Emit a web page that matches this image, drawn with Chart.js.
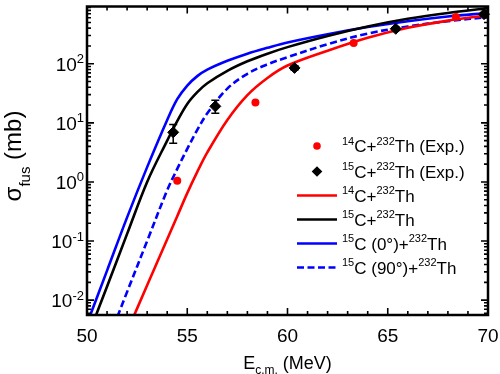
<!DOCTYPE html>
<html>
<head>
<meta charset="utf-8">
<script src="https://cdn.jsdelivr.net/npm/chart.js@4.4.1/dist/chart.umd.min.js"></script>
<style>
  html, body { margin: 0; padding: 0; background: #fff; }
  #c { display: block; }
</style>
</head>
<body>
<canvas id="c" width="500" height="374"></canvas>
<script>
// ---- data ----

// energy grid of the calculated curves (MeV)
const eCalc = [50, 51, 52, 53, 54, 54.5, 55, 55.5, 56, 57, 58, 59, 60, 62, 64, 66, 68, 70];

// calculated fusion cross sections (mb)
const sigC14 = [0.00008, 0.0005, 0.00295, 0.0178, 0.107, 0.263, 0.646, 1.48, 3.16, 11.2, 29.5, 57.5, 93.3, 166, 275, 407, 537, 661];
const sigC15 = [0.00224, 0.017, 0.132, 1.0, 5.01, 10.7, 20.9, 33.1, 46.8, 75.9, 110, 148, 191, 295, 427, 575, 724, 871];
const sigC15deg0 = [0.00398, 0.0316, 0.251, 1.78, 11.2, 25.1, 42.7, 61.7, 79.4, 112, 148, 186, 229, 316, 417, 525, 631, 724];
const sigC15deg90 = [0.00025, 0.00186, 0.0138, 0.1, 0.724, 1.66, 3.63, 7.59, 14.5, 38.0, 67.6, 97.7, 129, 214, 324, 427, 525, 617];

// experimental points
const eExp14 = [54.5, 58.4, 63.3, 68.4];
const sigExp14 = [1.05, 22, 225, 615];
const eExp15 = [54.3, 56.4, 60.35, 65.4, 69.8];
const sigExp15 = [6.9, 19, 85, 390, 690];
const errLo15 = [4.5, 14.5, 78, 365, 650];
const errHi15 = [9.4, 24, 92, 415, 730];

// axis ticks
const xMajor = [50, 55, 60, 65, 70];
const yDecades = [-2, -1, 0, 1, 2];

// legend labels, split into [text, superscript?] pieces
const legendLabels = [
  [["14", true], ["C+", false], ["232", true], ["Th (Exp.)", false]],
  [["15", true], ["C+", false], ["232", true], ["Th (Exp.)", false]],
  [["14", true], ["C+", false], ["232", true], ["Th", false]],
  [["15", true], ["C+", false], ["232", true], ["Th", false]],
  [["15", true], ["C (0\u00B0)+", false], ["232", true], ["Th", false]],
  [["15", true], ["C (90\u00B0)+", false], ["232", true], ["Th", false]]
];

const FONT = "'Liberation Sans', Arial, Helvetica, sans-serif";
const RED = "#ff0000", BLUE = "#0000ff", BLACK = "#000000";

const pts = (xs, ys) => xs.map((x, i) => ({ x: x, y: ys[i] }));

function curve(values, color, dash) {
  return {
    data: pts(eCalc, values),
    showLine: true,
    borderColor: color,
    borderWidth: 2.6,
    borderDash: dash || [],
    pointRadius: 0,
    tension: 0.35,
    order: 2
  };
}

// ---- plugins: frame + ticks, error bars, titles, legend ----

const framePlugin = {
  id: "frame",
  afterDatasetsDraw(chart) {
    const { ctx, chartArea: a, scales: { x, y } } = chart;
    ctx.save();
    ctx.strokeStyle = BLACK;

    // error bars for 15C data
    ctx.lineWidth = 1.5;
    eExp15.forEach((e, i) => {
      const px = x.getPixelForValue(e);
      const lo = y.getPixelForValue(errLo15[i]);
      const hi = y.getPixelForValue(errHi15[i]);
      ctx.beginPath();
      ctx.moveTo(px, lo); ctx.lineTo(px, hi);
      ctx.moveTo(px - 4, lo); ctx.lineTo(px + 4, lo);
      ctx.moveTo(px - 4, hi); ctx.lineTo(px + 4, hi);
      ctx.stroke();
    });

    // tick marks on all four sides, pointing in
    ctx.lineWidth = 1.6;
    ctx.beginPath();
    for (let v = 50; v <= 70; v++) {
      const px = x.getPixelForValue(v);
      const len = v % 5 === 0 ? 7 : 4;
      ctx.moveTo(px, a.bottom); ctx.lineTo(px, a.bottom - len);
      ctx.moveTo(px, a.top); ctx.lineTo(px, a.top + len);
    }
    for (let k = -3; k <= 2; k++) {
      for (let m = 1; m <= 9; m++) {
        const v = m * Math.pow(10, k);
        if (v < y.min || v > y.max) continue;
        const py = y.getPixelForValue(v);
        const len = m === 1 ? 7 : 4;
        ctx.moveTo(a.left, py); ctx.lineTo(a.left + len, py);
        ctx.moveTo(a.right, py); ctx.lineTo(a.right - len, py);
      }
    }
    ctx.stroke();

    // frame
    ctx.lineWidth = 2.5;
    ctx.strokeRect(a.left, a.top, a.right - a.left, a.bottom - a.top);
    ctx.restore();
  },

  afterDraw(chart) {
    const { ctx, chartArea: a, scales: { y } } = chart;
    ctx.save();
    ctx.fillStyle = BLACK;
    ctx.textBaseline = "alphabetic";

    // y tick labels 10^n
    yDecades.forEach(k => {
      const py = y.getPixelForValue(Math.pow(10, k));
      const exp = k < 0 ? "-" + (-k) : String(k);
      ctx.font = "13px " + FONT;
      const we = ctx.measureText(exp).width;
      ctx.font = "19px " + FONT;
      const wb = ctx.measureText("10").width;
      const right = 84;
      ctx.fillText("10", right - we - wb, py + 6.8);
      ctx.font = "13px " + FONT;
      ctx.fillText(exp, right - we, py - 0.5);
    });

    // x title: E_c.m. (MeV)
    const xParts = [["E", "18px", 0], ["c.m.", "12px", 5], [" (MeV)", "18px", 0]];
    let total = 0;
    xParts.forEach(p => { ctx.font = p[1] + " " + FONT; total += ctx.measureText(p[0]).width; });
    let cx = (a.left + a.right) / 2 - total / 2;
    xParts.forEach(p => {
      ctx.font = p[1] + " " + FONT;
      ctx.fillText(p[0], cx, 369 + p[2]);
      cx += ctx.measureText(p[0]).width;
    });

    // y title: sigma_fus (mb), rotated
    const yParts = [["\u03C3", "24px", 0], ["fus", "15px", 9.5], [" (mb)", "24px", 0]];
    total = 0;
    yParts.forEach(p => { ctx.font = p[1] + " " + FONT; total += ctx.measureText(p[0]).width; });
    ctx.translate(20.5, 156);
    ctx.rotate(-Math.PI / 2);
    cx = -total / 2;
    yParts.forEach(p => {
      ctx.font = p[1] + " " + FONT;
      ctx.fillText(p[0], cx, p[2]);
      cx += ctx.measureText(p[0]).width;
    });
    ctx.setTransform(1, 0, 0, 1, 0, 0);

    // legend
    const rowY = [146, 171.5, 195.5, 219.5, 243.5, 267.5];
    const symX = 317;
    rowY.forEach((ry, i) => {
      ctx.save();
      if (i === 0) {
        ctx.fillStyle = RED;
        ctx.beginPath(); ctx.arc(symX, ry, 3.8, 0, Math.PI * 2); ctx.fill();
      } else if (i === 1) {
        ctx.fillStyle = BLACK;
        ctx.beginPath();
        ctx.moveTo(symX - 5.3, ry); ctx.lineTo(symX, ry - 5.3);
        ctx.lineTo(symX + 5.3, ry); ctx.lineTo(symX, ry + 5.3);
        ctx.closePath(); ctx.fill();
      } else {
        const ds = chart.data.datasets[i];
        ctx.strokeStyle = ds.borderColor;
        ctx.lineWidth = ds.borderWidth;
        ctx.setLineDash(ds.borderDash || []);
        ctx.beginPath(); ctx.moveTo(297, ry); ctx.lineTo(337, ry); ctx.stroke();
      }
      ctx.restore();
      let tx = 342;
      legendLabels[i].forEach(([txt, sup]) => {
        ctx.font = (sup ? "11px " : "17px ") + FONT;
        ctx.fillText(txt, tx, sup ? ry - 1.5 : ry + 6);
        tx += ctx.measureText(txt).width;
      });
    });
    ctx.restore();
  }
};

new Chart(document.getElementById("c"), {
  type: "scatter",
  data: {
    datasets: [
      {
        data: pts(eExp14, sigExp14),
        pointStyle: "circle", pointRadius: 4, pointBackgroundColor: RED,
        pointBorderColor: RED, pointBorderWidth: 0, order: 0, clip: false
      },
      {
        data: pts(eExp15, sigExp15),
        pointStyle: "rectRot", pointRadius: 5.5, pointBackgroundColor: BLACK,
        pointBorderColor: BLACK, pointBorderWidth: 1, order: 0, clip: false
      },
      curve(sigC14, RED),
      curve(sigC15, BLACK),
      curve(sigC15deg0, BLUE),
      curve(sigC15deg90, BLUE, [7, 3.5])
    ]
  },
  options: {
    responsive: false,
    animation: false,
    devicePixelRatio: 1,
    layout: { padding: { top: 3, right: 12, left: 0, bottom: 0 } },
    plugins: { legend: { display: false }, tooltip: { enabled: false } },
    scales: {
      x: {
        type: "linear", min: 50, max: 70,
        grid: { display: false, drawTicks: false },
        border: { display: false },
        ticks: {
          stepSize: 5, padding: 10, maxRotation: 0, color: BLACK,
          font: { size: 19, family: FONT },
          callback: v => (xMajor.includes(v) ? String(v) : "")
        },
        afterFit: s => { s.height = 59; s.paddingLeft = 0; s.paddingRight = 0; }
      },
      y: {
        type: "logarithmic", min: 0.0056, max: 930,
        grid: { display: false, drawTicks: false },
        border: { display: false },
        ticks: { display: false },
        afterFit: s => { s.width = 87; s.paddingTop = 0; s.paddingBottom = 0; }
      }
    }
  },
  plugins: [framePlugin]
});
</script>
</body>
</html>
